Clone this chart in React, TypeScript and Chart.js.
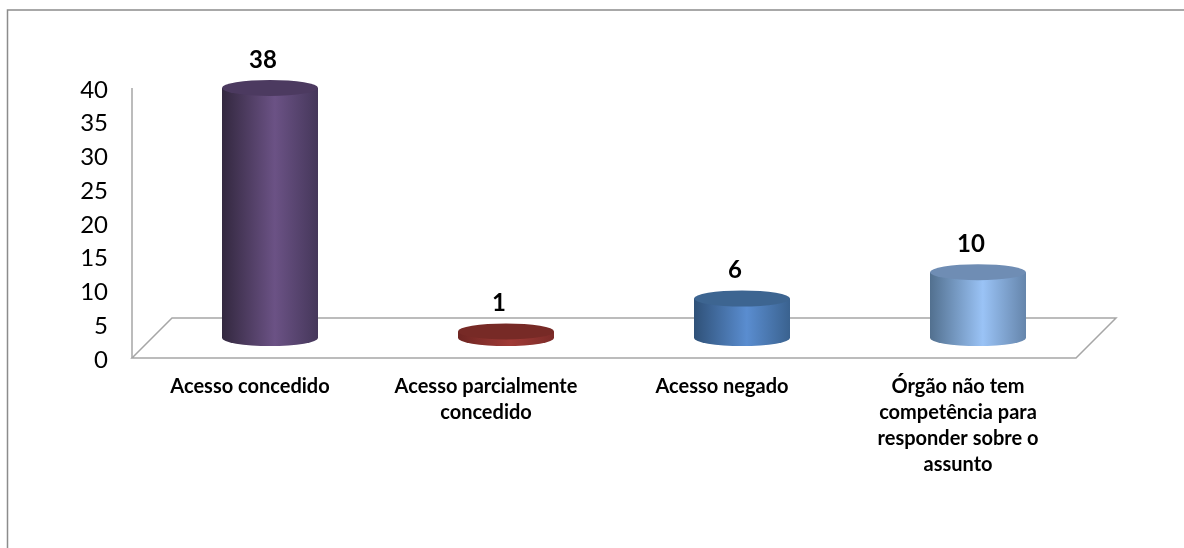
import React, { useEffect, useRef } from "react";
import { Chart, registerables } from "chart.js";

Chart.register(...registerables);

const categories: (string | string[])[] = [
  "Acesso concedido",
  ["Acesso parcialmente", "concedido"],
  "Acesso negado",
  ["Órgão não tem", "competência para", "responder sobre o", "assunto"],
];
const values = [38, 1, 6, 10];
const yMax = 40;
const yStep = 5;

// Per-bar shades: left edge, bright centre and right edge of the body, then the top cap
const bodyLeft = ["#33283f", "#6e2522", "#2f5178", "#52708f"];
const bodyLight = ["#6b5285", "#a03a36", "#5a8dd0", "#9ac3f6"];
const bodyRight = ["#45375a", "#7c2b28", "#3a628f", "#6585ab"];
const capColor = ["#4c3a60", "#772a26", "#3d6591", "#6f8db4"];

const FONT = "Lato, Carlito, 'Open Sans', sans-serif";
const DEPTH_X = 20;
const DEPTH_Y = 20;
const CAP_RY = 8;
const FORESHORTEN = 0.975;
// Tick text sits a little under its nominal position, so the plot lines are lifted to suit
const LIFT = 2;
const FRAME = "#8c8c8c";
const WALL = "#a6a6a6";

const cylinderPlugin = {
  id: "cylinders",
  beforeDraw(chart: any) {
    const { ctx, width, height } = chart;
    ctx.save();
    ctx.fillStyle = "#ffffff";
    ctx.fillRect(0, 0, width, height);
    // Outer frame: only the top and left edges fall inside the canvas
    ctx.strokeStyle = FRAME;
    ctx.lineWidth = 1.5;
    ctx.beginPath();
    ctx.moveTo(7.5, height);
    ctx.lineTo(7.5, 10);
    ctx.lineTo(width, 10);
    ctx.stroke();
    ctx.restore();
  },
  beforeDatasetsDraw(chart: any) {
    const { ctx, chartArea: a } = chart;
    const front = a.bottom - LIFT;
    const back = front - 2 * DEPTH_Y;
    ctx.save();
    ctx.strokeStyle = WALL;
    ctx.lineWidth = 1.5;
    ctx.lineJoin = "miter";
    // Value axis wall edge
    ctx.beginPath();
    ctx.moveTo(a.left - DEPTH_X, a.top - LIFT);
    ctx.lineTo(a.left - DEPTH_X, front);
    ctx.stroke();
    // Floor of the pseudo-3D plot
    ctx.beginPath();
    ctx.moveTo(a.left - DEPTH_X, front);
    ctx.lineTo(a.right - DEPTH_X, front);
    ctx.lineTo(a.right + DEPTH_X, back);
    ctx.lineTo(a.left + DEPTH_X, back);
    ctx.closePath();
    ctx.stroke();
    ctx.restore();
  },
  beforeDatasetDraw(chart: any) {
    const { ctx, chartArea: a, scales } = chart;
    const meta = chart.getDatasetMeta(0);
    const zero = scales.y.getPixelForValue(0);
    ctx.save();
    meta.data.forEach((bar: any, i: number) => {
      const { x, width: w } = bar.getProps(["x", "width"], true);
      const rx = w / 2;
      const baseY = a.bottom - LIFT - DEPTH_Y;
      const topY = baseY - (zero - scales.y.getPixelForValue(values[i])) * FORESHORTEN;

      const grad = ctx.createLinearGradient(x - rx, 0, x + rx, 0);
      grad.addColorStop(0, bodyLeft[i]);
      grad.addColorStop(0.55, bodyLight[i]);
      grad.addColorStop(1, bodyRight[i]);
      ctx.fillStyle = grad;
      ctx.beginPath();
      ctx.moveTo(x - rx, topY);
      ctx.lineTo(x - rx, baseY);
      ctx.ellipse(x, baseY, rx, CAP_RY, 0, Math.PI, 0, true);
      ctx.lineTo(x + rx, topY);
      ctx.closePath();
      ctx.fill();

      ctx.fillStyle = capColor[i];
      ctx.beginPath();
      ctx.ellipse(x, topY, rx, CAP_RY, 0, 0, Math.PI * 2);
      ctx.fill();

      ctx.fillStyle = "#000000";
      ctx.font = `bold 24px ${FONT}`;
      ctx.textAlign = "center";
      ctx.textBaseline = "middle";
      ctx.fillText(String(values[i]), x - 7, topY - 28);
    });
    ctx.restore();
    return false;
  },
};

export default function App() {
  const ref = useRef<HTMLCanvasElement | null>(null);

  useEffect(() => {
    if (!ref.current) return;
    const chart = new Chart(ref.current, {
      type: "bar",
      data: {
        labels: categories as any,
        datasets: [
          {
            data: values,
            backgroundColor: bodyLight,
            categoryPercentage: 1,
            barPercentage: 96 / 236,
          },
        ],
      },
      options: {
        animation: false,
        responsive: false,
        layout: { padding: { top: 88 + LIFT, right: 88, left: 0, bottom: 0 } },
        plugins: { legend: { display: false }, tooltip: { enabled: false } },
        scales: {
          x: {
            grid: { display: false, drawTicks: false },
            border: { display: false },
            afterFit(scale: any) {
              scale.height = 190 - LIFT;
            },
            ticks: {
              autoSkip: false,
              maxRotation: 0,
              padding: 14,
              labelOffset: -20,
              color: "#000000",
              font: { family: FONT, size: 20, weight: "bold", lineHeight: 1.3 },
            },
          },
          y: {
            min: 0,
            max: yMax,
            grid: { display: false, drawTicks: false },
            border: { display: false },
            afterFit(scale: any) {
              scale.width = 152;
            },
            ticks: {
              stepSize: yStep,
              padding: 44,
              color: "#000000",
              font: { family: FONT, size: 24 },
            },
          },
        },
      },
      plugins: [cylinderPlugin],
    });
    return () => chart.destroy();
  }, []);

  return (
    <canvas
      ref={ref}
      width={1184}
      height={548}
      style={{ position: "fixed", left: 0, top: 0, width: 1184, height: 548, display: "block" }}
    />
  );
}
